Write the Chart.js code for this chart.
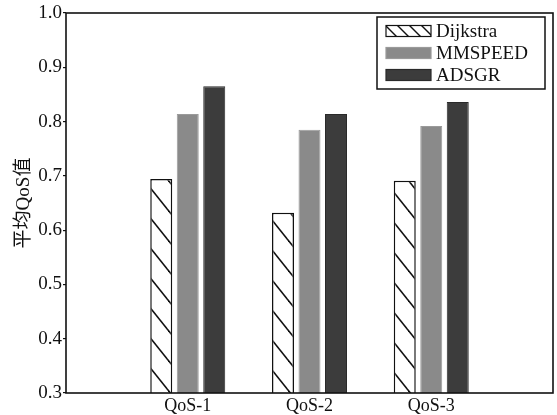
<!DOCTYPE html>
<html>
<head>
<meta charset="utf-8">
<script src="https://cdn.jsdelivr.net/npm/chart.js@4/dist/chart.umd.min.js"></script>
<style>
  html, body { margin: 0; padding: 0; background: #fff; }
  #wrap { width: 557px; height: 415px; position: relative; }
</style>
</head>
<body>
<div id="wrap"><canvas id="c"></canvas></div>
<script>
// Average QoS per scenario for three routing algorithms
const categories = ['QoS-1', 'QoS-2', 'QoS-3'];
const seriesNames = ['Dijkstra', 'MMSPEED', 'ADSGR'];
const dijkstra = [0.694, 0.632, 0.691];
const mmspeed  = [0.814, 0.785, 0.792];
const adsgr    = [0.865, 0.814, 0.836];
const yMin = 0.3, yMax = 1.0, yStep = 0.1;
const yTitle = '平均QoS值';

const SERIF = "'Liberation Serif', 'Noto Sans CJK SC', serif";

// diagonal "\" hatch used for the Dijkstra bars
function makeHatch(w, h, lw) {
  const c = document.createElement('canvas');
  c.width = w; c.height = h;
  const g = c.getContext('2d');
  g.fillStyle = '#fff';
  g.fillRect(0, 0, w, h);
  g.strokeStyle = '#111';
  g.lineWidth = lw;
  for (const n of [-1, 0, 1]) {
    g.beginPath();
    g.moveTo(-w, -h + n * h);
    g.lineTo(2 * w, 2 * h + n * h);
    g.stroke();
  }
  return g.createPattern(c, 'repeat');
}
const hatch = makeHatch(24, 30, 1.6);
const hatchSmall = makeHatch(12, 12, 1.4);

// empty slots at both ends give the half-category margins of the axis
const pad = arr => [null, ...arr, null];
const xLabels = ['', ...categories, ''];

const styles = [
  { backgroundColor: hatch, borderColor: '#111', borderWidth: 1.5, swatch: hatchSmall },
  { backgroundColor: '#8a8a8a', borderColor: '#9a9a9a', borderWidth: 1, swatch: '#8a8a8a' },
  { backgroundColor: '#3c3c3c', borderColor: '#2a2a2a', borderWidth: 1, swatch: '#3c3c3c' }
];
const values = [dijkstra, mmspeed, adsgr];

const datasets = seriesNames.map((name, i) => ({
  label: name,
  data: pad(values[i]),
  backgroundColor: styles[i].backgroundColor,
  borderColor: styles[i].borderColor,
  borderWidth: styles[i].borderWidth,
  borderSkipped: false,
  categoryPercentage: 0.653,
  barPercentage: 0.83
}));

// plot frame and boxed legend in the upper-right corner
const framePlugin = {
  id: 'frameAndLegend',
  afterDraw(chart) {
    const { ctx, chartArea: a } = chart;
    ctx.save();
    ctx.strokeStyle = '#111';
    ctx.lineWidth = 1.6;
    ctx.strokeRect(a.left, a.top, a.right - a.left, a.bottom - a.top);

    const bx = a.right - 176, by = a.top + 4, bw = 168, bh = 72;
    ctx.fillStyle = '#fff';
    ctx.fillRect(bx, by, bw, bh);
    ctx.lineWidth = 1.5;
    ctx.strokeRect(bx, by, bw, bh);
    ctx.font = '19px ' + SERIF;
    ctx.textBaseline = 'middle';
    ctx.textAlign = 'left';
    chart.data.datasets.forEach((ds, i) => {
      const cy = by + 14 + i * 22;
      const sx = bx + 9, sw = 45, sh = 11;
      ctx.fillStyle = styles[i].swatch;
      ctx.fillRect(sx, cy - sh / 2, sw, sh);
      ctx.lineWidth = 1.2;
      ctx.strokeStyle = i === 0 ? '#111' : styles[i].borderColor;
      ctx.strokeRect(sx, cy - sh / 2, sw, sh);
      ctx.fillStyle = '#111';
      ctx.fillText(ds.label, sx + 50, cy + 1);
    });
    ctx.restore();
  }
};

new Chart(document.getElementById('c'), {
  type: 'bar',
  data: { labels: xLabels, datasets },
  options: {
    responsive: true,
    maintainAspectRatio: false,
    animation: false,
    layout: { padding: { left: 0, right: 4, top: 13, bottom: 0 } },
    plugins: { legend: { display: false }, tooltip: { enabled: false } },
    scales: {
      x: {
        offset: false,
        grid: { display: false, drawTicks: false },
        border: { display: false },
        ticks: {
          color: '#111',
          font: { family: SERIF, size: 18 },
          padding: 2,
          maxRotation: 0,
          autoSkip: false
        },
        afterFit(s) { s.height = 22; }
      },
      y: {
        min: yMin,
        max: yMax,
        grid: {
          drawOnChartArea: false,
          drawTicks: true,
          tickLength: 3,
          color: '#111',
          lineWidth: 1.2
        },
        border: { display: false },
        ticks: {
          stepSize: yStep,
          color: '#111',
          font: { family: SERIF, size: 19 },
          padding: 1,
          callback: v => Number(v).toFixed(1)
        },
        title: {
          display: true,
          text: yTitle,
          color: '#111',
          font: { family: SERIF, size: 19 },
          padding: { top: 13, bottom: 0 }
        },
        afterFit(s) { s.width = 66; }
      }
    }
  },
  plugins: [framePlugin]
});
</script>
</body>
</html>
